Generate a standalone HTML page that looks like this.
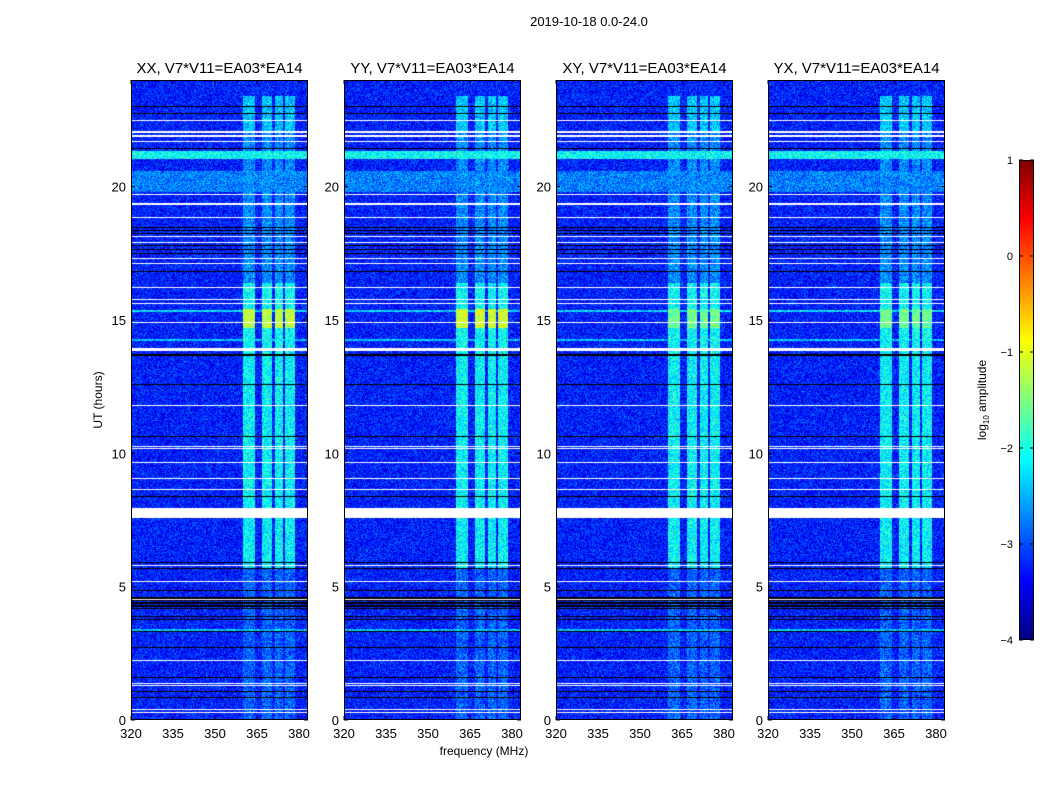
<!DOCTYPE html>
<html><head><meta charset="utf-8"><style>
body{margin:0;background:#fff;width:1050px;height:800px;overflow:hidden;font-family:"Liberation Sans",sans-serif}
#wrap{position:relative;width:1050px;height:800px}
canvas{position:absolute}
svg{position:absolute;left:0;top:0}
</style></head><body>
<div id="wrap">
<canvas id="c0" width="177" height="640" style="left:131px;top:80px"></canvas>
<canvas id="c1" width="177" height="640" style="left:344px;top:80px"></canvas>
<canvas id="c2" width="177" height="640" style="left:556px;top:80px"></canvas>
<canvas id="c3" width="177" height="640" style="left:768px;top:80px"></canvas>
<canvas id="cb" width="15" height="480" style="left:1019px;top:160px"></canvas>
<svg id="ov" width="1050" height="800"></svg>
</div>
<script>
// ---- data ----
const panelTitles=["XX, V7*V11=EA03*EA14","YY, V7*V11=EA03*EA14","XY, V7*V11=EA03*EA14","YX, V7*V11=EA03*EA14"];
const panelLeft=[131,344,556,768];
const xTicks=[320,335,350,365,380];
const yTicks=[0,5,10,15,20];
const cbTicks=[1,0,-1,-2,-3,-4];
const freqMin=320, freqMax=383.2, hourMin=0, hourMax=24, vmin=-4, vmax=1;
const background=-3.25;
// RFI bands [fStart,fEnd]
const bandStart=[360,366.8,371.4,375];
const bandEnd=[364.2,370.4,374.3,378.6];
// time segments for band level
const segStart=[0,5.7,13.7,16.4,22.0];
const segEnd=[5.7,13.7,16.4,22.0,23.4];
const segLevel=[-2.9,-2.15,-2.1,-2.7,-2.4];
// peak near 15h per panel
const peakLevel=[-1.2,-1.1,-1.6,-1.6];
// bright broadband rows
const brightStart=[21.05,19.8,14.2,3.3,15.3];
const brightEnd=[21.35,20.6,14.3,3.42,15.38];
const brightLevel=[-2.1,-2.75,-2.4,-2.4,-2.3];
// flagged rows
const whiteRows=[22.5,22.08,21.93,21.71,19.72,19.38,18.86,18.15,17.92,17.32,17.14,16.24,15.79,15.64,14.92,11.81,10.27,10.2,9.67,9.07,8.66,5.81,5.21,4.54,2.25,1.39,1.31,0.41,0.3];
const whiteBlockStart=[7.6,13.85];
const whiteBlockEnd=[7.98,13.97];
const blackRows=[23.02,22.76,21.45,18.49,18.37,18.26,17.81,17.66,17.51,16.84,13.7,12.6,10.65,8.4,5.92,5.7,4.87,4.6,4.5,4.4,4.3,4.2,3.9,3.79,3.34,2.74,1.61,1.09,0.86];

function jet(x){x=Math.max(0,Math.min(1,x));const c=v=>Math.round(255*Math.max(0,Math.min(1,v)));
return [c(1.5-Math.abs(4*x-3)),c(1.5-Math.abs(4*x-2)),c(1.5-Math.abs(4*x-1))];}
const W=177,H=640;
const xs=f=>(f-freqMin)/(freqMax-freqMin)*W;
const ys=h=>H*(1-(h-hourMin)/(hourMax-hourMin));
function hash(a,b,p){let n=(a*374761393+b*668265263+p*2246822519)|0;n=(n^(n>>>13))*1274126177|0;return ((n^(n>>>16))>>>0)/4294967296;}
function rowFlag(y){
  for(const h of whiteRows){if(Math.abs(ys(h)-y)<0.8)return 'w';}
  for(let i=0;i<whiteBlockStart.length;i++){if(y>=ys(whiteBlockEnd[i])&&y<=ys(whiteBlockStart[i]))return 'w';}
  for(const h of blackRows){if(Math.abs(ys(h)-y)<0.8)return 'k';}
  return null;}
for(let p=0;p<4;p++){
  const ctx=document.getElementById('c'+p).getContext('2d');
  const img=ctx.createImageData(W,H);
  for(let y=0;y<H;y++){
    const h=hourMax-(y+0.5)/H*(hourMax-hourMin);
    const fl=rowFlag(y);
    let rowBase=background;
    for(let i=0;i<brightStart.length;i++) if(h>=brightStart[i]&&h<=brightEnd[i]) rowBase=Math.max(rowBase,brightLevel[i]);
    let bl=-3.2;
    for(let i=0;i<segStart.length;i++) if(h>=segStart[i]&&h<segEnd[i]) bl=segLevel[i];
    if(h>14.7&&h<15.4) bl=peakLevel[p];
    for(let x=0;x<W;x++){
      const k=(y*W+x)*4;let col;
      if(fl==='w')col=[255,255,255];else if(fl==='k')col=[0,0,0];
      else{
        const f=freqMin+(x+0.5)/W*(freqMax-freqMin);
        let v=rowBase;
        for(let b=0;b<bandStart.length;b++) if(f>=bandStart[b]&&f<=bandEnd[b]) v=Math.max(v,bl);
        v+=(hash(x,y,p)-0.5)*0.9;
        col=jet((v-vmin)/(vmax-vmin));
      }
      img.data[k]=col[0];img.data[k+1]=col[1];img.data[k+2]=col[2];img.data[k+3]=255;
    }
  }
  ctx.putImageData(img,0,0);
}
// colorbar
{const ctx=document.getElementById('cb').getContext('2d');
for(let y=0;y<480;y++){const c=jet(1-(y+0.5)/480);ctx.fillStyle=`rgb(${c[0]},${c[1]},${c[2]})`;ctx.fillRect(0,y,15,1);}}
// overlay
const svg=document.getElementById('ov');const NS='http://www.w3.org/2000/svg';
function mk(tag,attrs,txt){const e=document.createElementNS(NS,tag);for(const a in attrs)e.setAttribute(a,attrs[a]);if(txt!==undefined)e.textContent=txt;svg.appendChild(e);return e;}
let t=mk('text',{x:589,y:26,'text-anchor':'middle','font-size':13},'2019-10-18 0.0-24.0');


for(let p=0;p<4;p++){
  const L=panelLeft[p],T=80;
  let r=mk('rect',{x:L+0.5,y:T+0.5,width:W-1,height:H-1,fill:'none',stroke:'#000','stroke-width':1});
  
  
  let tt=mk('text',{x:L+W/2,y:73,'text-anchor':'middle','font-size':15},panelTitles[p]);
  
  
  for(const f of xTicks){const x=L+xs(f);
    mk('line',{x1:x,x2:x,y1:T+H,y2:T+H-4,stroke:'#000'});mk('line',{x1:x,x2:x,y1:T,y2:T+4,stroke:'#000'});
    let l=mk('text',{x:x,y:T+H+18,'text-anchor':'middle','font-size':13},String(f));
    
    }
  for(const h of yTicks){const y=T+ys(h);
    mk('line',{x1:L,x2:L+4,y1:y,y2:y,stroke:'#000'});mk('line',{x1:L+W,x2:L+W-4,y1:y,y2:y,stroke:'#000'});
    let l=mk('text',{x:L-5,y:y+5,'text-anchor':'end','font-size':13},String(h));
    
    }
}
let xl=mk('text',{x:484,y:755,'text-anchor':'middle','font-size':12},'frequency (MHz)');


let yl=mk('text',{x:0,y:0,'text-anchor':'middle','font-size':12,transform:'translate(102,400) rotate(-90)'},'UT (hours)');


let cr=mk('rect',{x:1019.5,y:160.5,width:14,height:479,fill:'none',stroke:'#000'});


for(const v of cbTicks){const y=160+(vmax-v)/(vmax-vmin)*480;
  mk('line',{x1:1019,x2:1023,y1:y,y2:y,stroke:'#000'});mk('line',{x1:1034,x2:1030,y1:y,y2:y,stroke:'#000'});
  let l=mk('text',{x:1013,y:y+4,'text-anchor':'end','font-size':11},v<0?'\u2212'+(-v):String(v));
  
  }
let cl=mk('text',{x:0,y:0,'text-anchor':'middle','font-size':12,transform:'translate(986,400) rotate(-90)'});
cl.innerHTML='log<tspan font-size="8" dy="3">10</tspan><tspan dy="-3"> amplitude</tspan>';


</script>
</body></html>
